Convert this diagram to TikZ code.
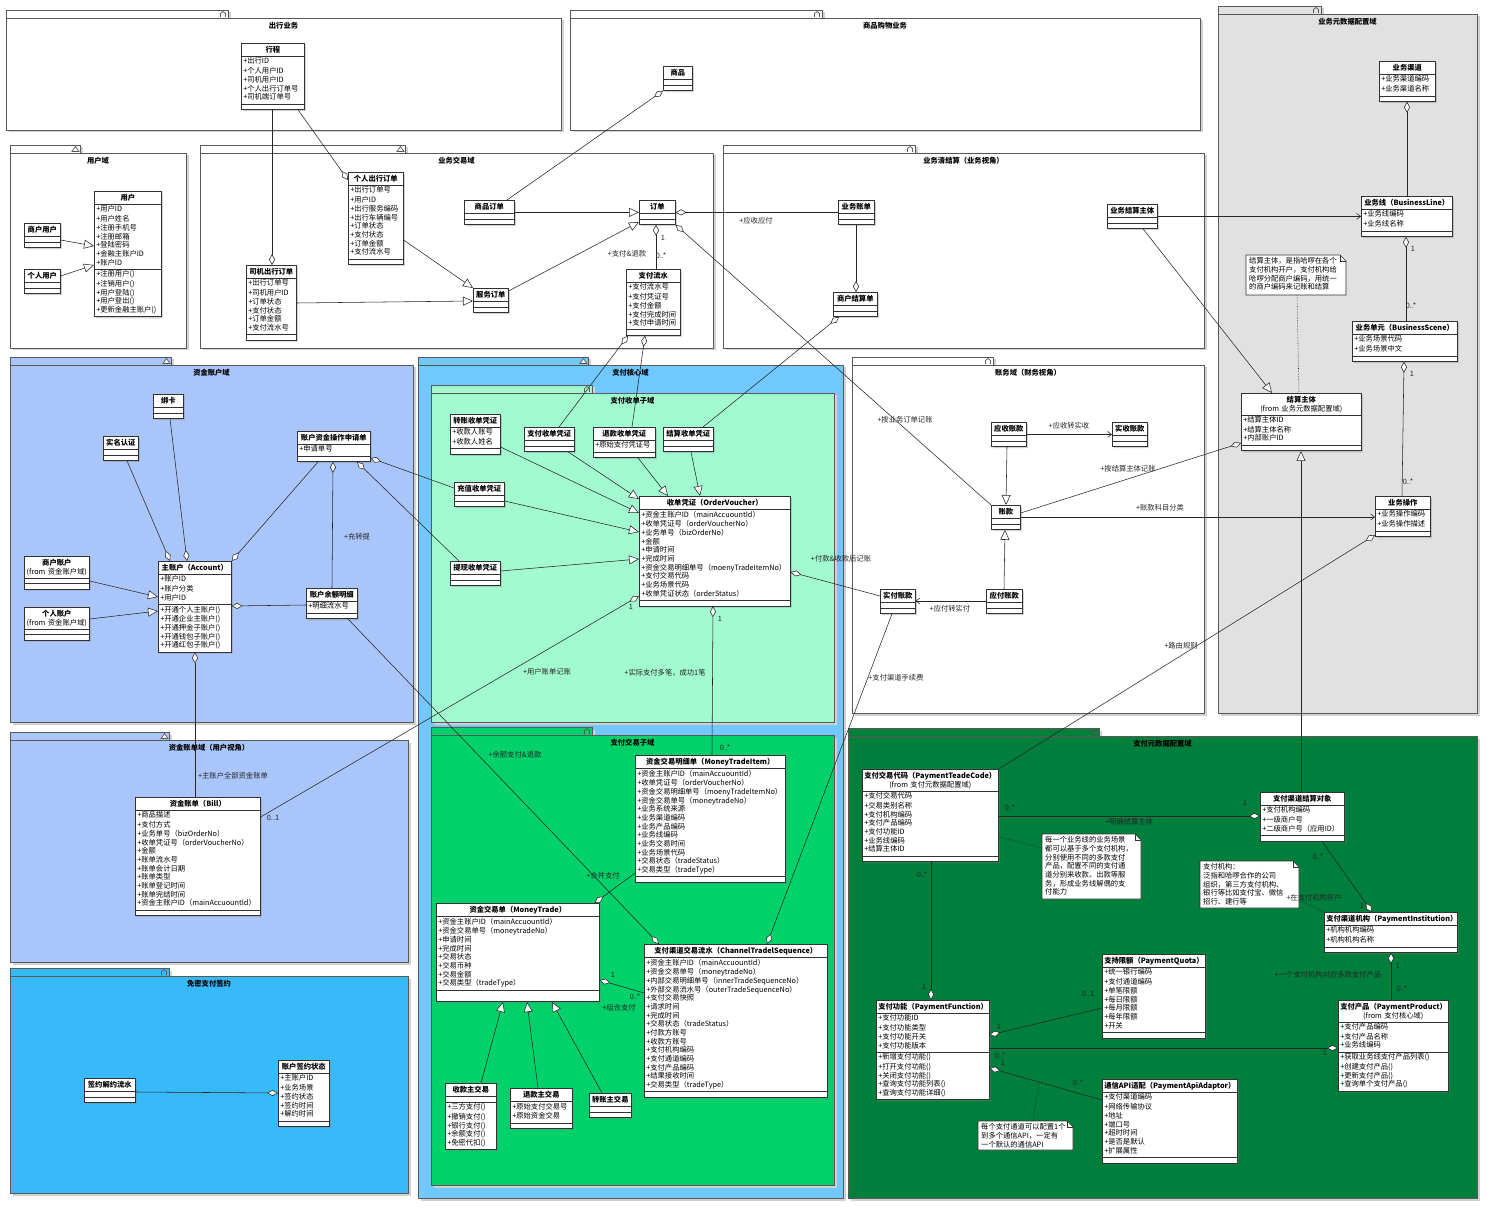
\documentclass[tikz,border=0pt]{standalone}
\usepackage{fontspec}
\setmainfont{Noto Sans CJK SC}
\usetikzlibrary{shapes.multipart,arrows.meta,shadows,calc}
\setlength\parindent{0pt}
\definecolor{cBlueA}{RGB}{170,197,250}
\definecolor{cBlueB}{RGB}{56,185,250}
\definecolor{cBlueC}{RGB}{112,200,252}
\definecolor{cMint}{RGB}{162,250,208}
\definecolor{cGreen}{RGB}{0,209,106}
\definecolor{cDark}{RGB}{0,126,60}
\definecolor{cGray}{RGB}{225,225,225}
\definecolor{cLine}{RGB}{50,50,50}
\newcommand\umlfont{\fontsize{7.3}{8.67}\selectfont}
\newcommand\umlcls[7]{%
  \node[umlbox, text width=#4pt] (#1) at (#2,#3) {\leftskip=0pt plus 1fil\rightskip=0pt plus 1fil\parfillskip=0pt\rule[-2.6pt]{0pt}{10pt}\textbf{#5}\par
    \nodepart{two}\raggedright\ifx\relax#6\relax\rule{0pt}{2.6pt}\else\strut#6\strut\fi
    \nodepart{three}\raggedright\ifx\relax#7\relax\rule{0pt}{2.6pt}\else\strut#7\strut\fi};}
\newcommand\umlpkg[9]{%
  \fill[black!18] (#2+2.5,#3+2.5) rectangle (#4+2.5,#3+10.5);
  \fill[black!18] (#2+2.5,#3+10.5) rectangle (#5+2.5,#6+2.5);
  \draw[pkgline, fill=#7] (#2,#3) rectangle (#4,#3+8);
  \draw[pkgline, fill=#7] (#2,#3+8) rectangle (#5,#6);
  \node[pkgtitle] (#1) at ({(#2+#5)/2},#3+16) {#8};
  \ifx t#9\draw[pkgline,fill=white] (#4-8,#3+6.5) -- (#4-4.5,#3+1.5) -- (#4-1,#3+6.5) -- cycle;
  \else\draw[pkgline] (#4-7.5,#3+7) -- (#4-7.5,#3+3.5) -- (#4-5,#3+1.5) -- (#4-2.5,#3+3.5) -- (#4-2.5,#3+7);\fi}
\newcommand\umlnote[7]{%
  \filldraw[noteline] (#2,#3) -- (#4-6,#3) -- (#4,#3+6) -- (#4,#5) -- (#2,#5) -- cycle;
  \draw[noteline,fill=none] (#4-6,#3) -- (#4-6,#3+6) -- (#4,#3+6);
  \node[inner sep=0pt, minimum width={(#4-#2)*1pt}, minimum height={(#5-#3)*1pt}, anchor=north west] (#1) at (#2,#3) {};
  \node[notetxt, text width=#6pt, anchor=north west] (#1t) at (#2+3,#3+2.5) {#7};}
\tikzset{
 umlbox/.style={rectangle split, rectangle split parts=3, draw=cLine, line width=0.6pt, fill=white, anchor=north west, inner xsep=2pt, inner ysep=1.2pt, font=\umlfont, drop shadow={shadow xshift=1.6pt, shadow yshift=-1.6pt, opacity=0.35, fill=black!50}},
 pkgline/.style={draw=black!65, line width=0.7pt},
 pkgtitle/.style={font=\bfseries\umlfont, inner sep=0pt},
 noteline/.style={draw=cLine, line width=0.6pt, fill=white},
 notetxt/.style={font=\umlfont, inner sep=0pt, align=left},
 lbl/.style={font=\umlfont, inner sep=0.5pt, text=black!85},
 conn/.style={draw=black!85, line width=0.55pt},
 agg/.style={conn, {Diamond[fill=white,length=11pt,width=6pt]}-},
 gen/.style={conn, -{Triangle[fill=white,length=10pt,width=9pt]}},
 nav/.style={conn, -{Straight Barb[length=4pt,width=6pt]}},
 dot/.style={conn, densely dotted},
}
\begin{document}
\begin{tikzpicture}[x=1pt,y=-1pt]
\useasboundingbox (0,0) rectangle (1500,1222);
\fill[white] (0,0) rectangle (1500,1222);
% ---------- packages ----------
\umlpkg{p1}{6}{10}{228}{561}{130}{white}{出行业务}{h}
\umlpkg{p2}{570}{10}{822}{1200}{130}{white}{商品购物业务}{h}
\umlpkg{p3}{1218}{6}{1321}{1477}{713}{cGray}{业务元数据配置域}{h}
\umlpkg{p4}{10}{145}{80}{186}{348}{white}{用户域}{t}
\umlpkg{p5}{200}{145}{405}{713}{348}{white}{业务交易域}{t}
\umlpkg{p6}{723}{145}{915}{1204}{348}{white}{业务清结算（业务视角）}{h}
\umlpkg{p7}{10}{357}{171}{413}{722}{cBlueA}{资金账户域}{t}
\umlpkg{p8}{10}{732}{169}{408}{962}{cBlueA}{资金账单域（用户视角）}{t}
\umlpkg{p9}{10}{968}{169}{408}{1193}{cBlueB}{免密支付签约}{h}
\umlpkg{p10}{418}{357}{588}{843}{1198}{cBlueC}{支付核心域}{t}
\umlpkg{p11}{431}{385}{592}{834}{722}{cMint}{支付收单子域}{h}
\umlpkg{p12}{431}{727}{592}{834}{1185}{cGreen}{支付交易子域}{h}
\umlpkg{p13}{852}{357}{993}{1204}{713}{white}{账务域（财务视角）}{h}
\umlpkg{p14}{848}{728}{1099}{1477}{1198}{cDark}{支付元数据配置域}{h}
% ---------- classes ----------
\umlcls{xc}{241}{43}{59}{行程}{+出行ID\\+个人用户ID\\+司机用户ID\\+个人出行订单号\\+司机端订单号}{}
\umlcls{yh}{94}{191}{63}{用户}{+用户ID\\+用户姓名\\+注册手机号\\+注册邮箱\\+登陆密码\\+金融主账户ID\\+账户ID}{+注册用户()\\+注销用户()\\+用户登陆()\\+用户登出()\\+更新金融主账户()}
\umlcls{shyh}{24}{223}{32}{商户用户}{}{}
\umlcls{gryh}{24}{269}{32}{个人用户}{}{}
\umlcls{sjdd}{246}{265}{46}{司机出行订单}{+出行订单号\\+司机用户ID\\+订单状态\\+支付状态\\+订单金额\\+支付流水号}{}
\umlcls{grdd}{348}{172}{51}{个人出行订单}{+出行订单号\\+用户ID\\+出行服务编码\\+出行车辆编号\\+订单状态\\+支付状态\\+订单金额\\+支付流水号}{}
\umlcls{sp}{663}{66}{25}{商品}{}{}
\umlcls{spdd}{464}{200}{46}{商品订单}{}{}
\umlcls{dd}{639}{200}{32}{订单}{}{}
\umlcls{fwdd}{473}{288}{31}{服务订单}{}{}
\umlcls{zfls}{626}{269}{50}{支付流水}{+支付流水号\\+支付凭证号\\+支付金额\\+支付完成时间\\+支付申请时间}{}
\umlcls{ywzd}{838}{200}{32}{业务账单}{}{}
\umlcls{shjsd}{833}{292}{40}{商户结算单}{}{}
\umlcls{ywjszt}{1107}{204}{46}{业务结算主体}{}{}
\umlcls{ywqd}{1379}{61}{52}{业务渠道}{+业务渠道编码\\+业务渠道名称}{}
\umlcls{ywx}{1361}{196}{87}{业务线（BusinessLine）}{+业务线编码\\+业务线名称}{}
\umlcls{ywdy}{1352}{321}{101}{业务单元（BusinessScene）}{+业务场景代码\\+业务场景中文}{}
\umlcls{jszt}{1241}{393}{116}{结算主体\\\mdseries(from 业务元数据配置域)}{+结算主体ID\\+结算主体名称\\+内部账户ID}{}
\umlcls{ywcz}{1375}{496}{51}{业务操作}{+业务操作编码\\+业务操作描述}{}
\umlcls{bk}{153}{394}{26}{绑卡}{}{}
\umlcls{smrz}{103}{436}{31}{实名认证}{}{}
\umlcls{sqd}{297}{431}{69}{账户资金操作申请单}{+申请单号}{}
\umlcls{shzh}{24}{556}{61}{商户账户\\\mdseries(from 资金账户域)}{}{}
\umlcls{grzh}{24}{607}{61}{个人账户\\\mdseries(from 资金账户域)}{}{}
\umlcls{zzh}{158}{561}{69}{主账户（Account）}{+账户ID\\+账户分类\\+用户ID}{+开通个人主账户()\\+开通企业主账户()\\+开通押金子账户()\\+开通钱包子账户()\\+开通红包子账户()}
\umlcls{yemx}{306}{588}{47}{账户余额明细}{+明细流水号}{}
\umlcls{zd}{135}{797}{121}{资金账单（Bill）}{+商品描述\\+支付方式\\+业务单号（bizOrderNo）\\+收单凭证号（orderVoucherNo）\\+金额\\+账单流水号\\+账单会计日期\\+账单类型\\+账单登记时间\\+账单完结时间\\+资金主账户ID（mainAccuountId）}{}
\umlcls{qyls}{84}{1078}{47}{签约解约流水}{}{}
\umlcls{qyzt}{278}{1060}{47}{账户签约状态}{+主账户ID\\+业务场景\\+签约状态\\+签约时间\\+解约时间}{}
\umlcls{zzsd}{450}{414}{46}{转账收单凭证}{+收款人账号\\+收款人姓名}{}
\umlcls{zfsd}{524}{427}{46}{支付收单凭证}{}{}
\umlcls{tksd}{593}{427}{58}{退款收单凭证}{+原始支付凭证号}{}
\umlcls{jssd}{663}{427}{46}{结算收单凭证}{}{}
\umlcls{czsd}{454}{482}{46}{充值收单凭证}{}{}
\umlcls{txsd}{450}{561}{46}{提现收单凭证}{}{}
\umlcls{sdpz}{639}{496}{147}{收单凭证（OrderVoucher）}{+资金主账户ID（mainAccuountId）\\+收单凭证号（orderVoucherNo）\\+业务单号（bizOrderNo）\\+金额\\+申请时间\\+完成时间\\+资金交易明细单号（moenyTradeItemNo）\\+支付交易代码\\+业务场景代码\\+收单凭证状态（orderStatus）}{}
\umlcls{mxd}{635}{755}{146}{资金交易明细单（MoneyTradeItem）}{+资金主账户ID（mainAccuountId）\\+收单凭证号（orderVoucherNo）\\+资金交易明细单号（moenyTradeItemNo）\\+资金交易单号（moneytradeNo）\\+业务系统来源\\+业务渠道编码\\+业务产品编码\\+业务线编码\\+业务交易时间\\+业务场景代码\\+交易状态（tradeStatus）\\+交易类型（tradeType）}{}
\umlcls{jyd}{436}{903}{159}{资金交易单（MoneyTrade）}{+资金主账户ID（mainAccuountId）\\+资金交易单号（moneytradeNo）\\+申请时间\\+完成时间\\+交易状态\\+交易币种\\+交易金额\\+交易类型（tradeType）}{\mbox{}}
\umlcls{qdls}{644}{944}{179}{支付渠道交易流水（ChannelTradelSequence）}{+资金主账户ID（mainAccuountId）\\+资金交易单号（moneytradeNo）\\+内部交易明细单号（innerTradeSequenceNo）\\+外部交易流水号（outerTradeSequenceNo）\\+支付交易快照\\+请求时间\\+完成时间\\+交易状态（tradeStatus）\\+付款方账号\\+收款方账号\\+支付机构编码\\+支付通道编码\\+支付产品编码\\+结果接收时间\\+交易类型（tradeType）}{}
\umlcls{skzjy}{445}{1083}{47}{收款主交易}{}{+三方支付()\\+撤销支付()\\+银行支付()\\+余额支付()\\+免密代扣()}
\umlcls{tkzjy}{510}{1088}{58}{退款主交易}{+原始支付交易号\\+原始资金交易}{}
\umlcls{zzzjy}{589}{1093}{38}{转账主交易}{}{}
\umlcls{yszk}{991}{422}{31}{应收账款}{}{}
\umlcls{sszk}{1112}{422}{31}{实收账款}{}{}
\umlcls{zk}{991}{505}{25}{账款}{}{}
\umlcls{yfzk}{986}{589}{32}{应付账款}{}{}
\umlcls{sfzk}{880}{589}{31}{实付账款}{}{}
\umlcls{jydm}{862}{769}{132}{支付交易代码（PaymentTeadeCode）\\\mdseries(from 支付元数据配置域)}{+支付交易代码\\+交易类别名称\\+支付机构编码\\+支付产品编码\\+支付功能ID\\+业务线编码\\+结算主体ID}{}
\umlcls{jsdx}{1260}{792}{80}{支付渠道结算对象}{+支付机构编码\\+一级商户号\\+二级商户号（应用ID）}{}
\umlcls{jg}{1324}{912}{129}{支付渠道机构（PaymentInstitution）}{+机构机构编码\\+机构机构名称}{}
\umlcls{cp}{1338}{1000}{106}{支付产品（PaymentProduct）\\\mdseries(from 支付核心域)}{+支付产品编码\\+支付产品名称\\+业务线编码}{+获取业务线支付产品列表()\\+创建支付产品()\\+更新支付产品()\\+查询单个支付产品()}
\umlcls{gn}{876}{1000}{109}{支付功能（PaymentFunction）}{+支付功能ID\\+支付功能类型\\+支付功能开关\\+支付功能版本}{+新增支付功能()\\+打开支付功能()\\+关闭支付功能()\\+查询支付功能列表()\\+查询支付功能详细()}
\umlcls{xe}{1102}{954}{99}{支持限额（PaymentQuota）}{+统一银行编码\\+支付通道编码\\+单笔限额\\+每日限额\\+每月限额\\+每年限额\\+开关}{}
\umlcls{api}{1102}{1079}{131}{通信API适配（PaymentApiAdaptor）}{+支付渠道编码\\+网络传输协议\\+地址\\+端口号\\+超时时间\\+是否是默认\\+扩展属性}{}
% ---------- notes ----------
\umlnote{n1}{1246}{255}{1346}{295}{95}{结算主体，是指哈啰在各个\\支付机构开户，支付机构给\\哈啰分配商户编码，用统一\\的商户编码来记账和结算}
\umlnote{n2}{1042}{834}{1141}{899}{95}{每一个业务线的业务场景\\都可以基于多个支付机构，\\分别使用不同的多款支付\\产品，配置不同的支付通\\道分别来收款、出款等服\\务，形成业务线解偶的支\\付能力}
\umlnote{n3}{978}{1121}{1073}{1150}{91}{每个支付通道可以配置1个\\到多个通信API，一定有\\一个默认的通信API}
\umlnote{n4}{1200}{861}{1299}{908}{95}{支付机构：\\泛指和哈啰合作的公司\\组织，第三方支付机构、\\银行等比如支付宝、微信\\招行、建行等}
% ---------- connectors ----------
\draw[agg] (sjdd.north -| 272,0) -- (xc.south -| 272,0);
\draw[agg] (grdd.west |- 0,180) -- (xc.south -| 298,0);
\draw[gen] (grdd.east |- 0,240) -- (fwdd.north west);
\draw[gen] (sjdd.east |- 0,303) -- (fwdd.west |- 0,301);
\draw[gen] (spdd.east) -- (dd.west |- spdd.east);
\draw[gen] (fwdd.east |- 0,291) -- (dd.west |- 0,222);
\draw[agg] (sp.south west) -- (spdd.north -| 507,0);
\draw[agg] (dd.south -| 656,0) -- (zfls.north -| 656,0);
\draw[agg] (dd.east) -- (ywzd.west |- dd.east);
\draw[agg] (dd.south east) -- (zk.north west);
\draw[agg] (shjsd.north -| 856,0) -- (ywzd.south -| 856,0);
\draw[agg] ($(shjsd.south west)+(6,0)$) -- (jssd.north -| 703,0);
\draw[nav] (ywjszt.east) -- (ywx.west |- ywjszt.east);
\draw[gen] (ywjszt.south -| 1143,0) -- (jszt.north -| 1272,0);
\draw[dot] (n1.south -| 1297,0) -- (jszt.north -| 1299,0);
\draw[agg] (ywqd.south -| 1407,0) -- (ywx.north -| 1407,0);
\draw[agg] (ywx.south -| 1406,0) -- (ywdy.north -| 1406,0);
\draw[agg] (ywdy.south -| 1404,0) -- (ywcz.north -| 1402,0);
\draw[gen] (jsdx.north -| 1301,0) -- (jszt.south -| 1301,0);
\draw[agg] (jszt.west |- 0,443) -- (zk.east |- 0,513);
\draw[nav] (zk.east |- 0,517) -- (ywcz.west |- 0,517);
\draw[agg] (ywcz.west |- 0,535) -- (jydm.north east);
\draw[nav] (yszk.east) -- (sszk.west |- yszk.east);
\draw[gen] (yszk.south -| 1007,0) -- (zk.north -| 1006,0);
\draw[gen] (yfzk.north -| 1004,0) -- (zk.south -| 1005,0);
\draw[nav] (yfzk.west |- 0,601) -- (sfzk.east |- 0,601);
\draw[agg] (sdpz.east |- 0,572) -- (sfzk.west |- 0,596);
\draw[agg] (qdls.north -| 767,0) -- (sfzk.south -| 892,0);
\draw[agg] ($(zfls.south west)+(2,0)$) -- (zfsd.north -| 559,0);
\draw[agg] (zfls.south -| 645,0) -- (tksd.north -| 632,0);
\draw[agg] (sqd.east |- 0,458) -- (czsd.west |- 0,488);
\draw[agg] (sqd.south -| 357,0) -- (txsd.north -| 459,0);
\draw[agg] (sqd.south -| 333,0) -- (yemx.north -| 332,0);
\draw[agg] (zzh.north east) -- (sqd.south -| 318,0);
\draw[agg] (zzh.north -| 170,0) -- (smrz.south -| 127,0);
\draw[agg] (zzh.north -| 187,0) -- (bk.south -| 170,0);
\draw[gen] (shzh.east |- 0,581) -- (zzh.west |- 0,597);
\draw[gen] (grzh.east |- 0,619) -- (zzh.west |- 0,611);
\draw[agg] (zzh.east |- 0,606) -- (yemx.west |- 0,605);
\draw[agg] (zzh.south -| 195,0) -- (zd.north -| 195,0);
\draw[agg] (sdpz.west |- 0,596) -- (zd.east |- 0,817);
\draw[agg] (qdls.north -| 659,0) -- (yemx.south -| 348,0);
\draw[agg] (qyzt.west |- 0,1093) -- (qyls.east |- 0,1092);
\draw[gen] (shyh.east |- 0,240) -- (yh.west |- 0,246);
\draw[gen] (gryh.east |- 0,276) -- (yh.west |- 0,265);
\draw[gen] (zfsd.south -| 568,0) -- (sdpz.west |- 0,499);
\draw[gen] (zzsd.east |- 0,447) -- (sdpz.west |- 0,513);
\draw[gen] (czsd.east |- 0,501) -- (sdpz.west |- 0,532);
\draw[gen] (txsd.east |- 0,571) -- (sdpz.west |- 0,559);
\draw[gen] (tksd.south -| 638,0) -- (sdpz.north -| 668,0);
\draw[gen] (jssd.south -| 691,0) -- (sdpz.north -| 700,0);
\draw[agg] (sdpz.south -| 713,0) -- (mxd.north -| 712,0);
\draw[agg] ($(jyd.north east)+(-5,0)$) -- (mxd.west |- 0,873);
\draw[agg] (jyd.east |- 0,980) -- (qdls.west |- 0,993);
\draw[gen] (skzjy.north -| 481,0) -- (jyd.south -| 503,0);
\draw[gen] (tkzjy.north -| 538,0) -- (jyd.south -| 527,0);
\draw[gen] (zzzjy.north -| 602,0) -- (jyd.south -| 552,0);
\draw[agg] (jsdx.west |- 0,816) -- (jydm.east |- 0,816);
\draw[dot] (n2.west |- 0,848) -- (jydm.east |- 0,837);
\draw[agg] (gn.north -| 931,0) -- (jydm.south -| 931,0);
\draw[agg] (gn.east |- 0,1035) -- (xe.west |- 0,1008);
\draw[agg] (cp.west |- 0,1048) -- (gn.east |- 0,1048);
\draw[agg] (gn.east |- 0,1068) -- coordinate[pos=0.44] (m57) (api.west |- 0,1100);
\draw[dot] (n3.north -| 1033,0) -- (m57);
\draw[agg] (jg.north -| 1372,0) -- (jsdx.south -| 1322,0);
\draw[dot] (n4.east |- 0,900) -- (jg.north west);
\draw[agg] (jg.south -| 1391,0) -- (cp.north -| 1391,0);
% ---------- labels ----------
\node[lbl] (m1) at (663,238) {1};
\node[lbl] (m2) at (661,256) {0..*};
\node[lbl] (r1) at (627,254) {+支付\&退款};
\node[lbl] (r2) at (756,221) {+应收应付};
\node[lbl] (r3) at (905,420) {+按业务订单记账};
\node[lbl] (r4) at (1069,426) {+应收转实收};
\node[lbl] (r5) at (1128,469) {+按结算主体记账};
\node[lbl] (r6) at (1160,508) {+账款科目分类};
\node[lbl] (r7) at (1181,646) {+路由规则};
\node[lbl] (r8) at (841,559) {+付款\&收款后记账};
\node[lbl] (r9) at (950,609) {+应付转实付};
\node[lbl] (r10) at (896,678) {+支付渠道手续费};
\node[lbl] (m3) at (1413,249) {1};
\node[lbl] (m4) at (1411,306) {0..*};
\node[lbl] (m5) at (1412,374) {1};
\node[lbl] (m6) at (1408,482) {0..*};
\node[lbl] (r11) at (357,537) {+充转提};
\node[lbl] (r12) at (233,776) {+主账户全部资金账单};
\node[lbl] (m7) at (631,607) {1};
\node[lbl] (m8) at (273,818) {0..1};
\node[lbl] (r13) at (547,672) {+用户账单记账};
\node[lbl] (m9) at (720,619) {1};
\node[lbl] (m10) at (725,748) {0..*};
\node[lbl] (r14) at (665,673) {+实际支付多笔，成功1笔};
\node[lbl] (r15) at (603,876) {+合并支付};
\node[lbl] (m11) at (613,975) {1};
\node[lbl] (m12) at (635,997) {0..*};
\node[lbl] (r16) at (619,1008) {+组合支付};
\node[lbl] (r17) at (515,755) {+余额支付\&退款};
\node[lbl] (m13) at (1010,808) {0..*};
\node[lbl] (m14) at (1245,803) {1};
\node[lbl] (r18) at (1129,822) {+明确结算主体};
\node[lbl] (m15) at (922,875) {0..*};
\node[lbl] (m16) at (924,987) {1};
\node[lbl] (m17) at (999,1027) {1};
\node[lbl] (m18) at (1088,994) {0..1};
\node[lbl] (m19) at (1000,1056) {0..*};
\node[lbl] (m20) at (1325,1053) {1};
\node[lbl] (m21) at (1003,1063) {1};
\node[lbl] (m22) at (1078,1083) {0..*};
\node[lbl] (m23) at (1318,857) {0..*};
\node[lbl] (m24) at (1362,906) {1};
\node[lbl] (r19) at (1314,898) {+在支付机构开户};
\node[lbl] (m25) at (1398,966) {1};
\node[lbl] (m26) at (1402,989) {0..*};
\node[lbl] (r20) at (1328,975) {+一个支付机构对应多款支付产品};
\end{tikzpicture}
\end{document}
